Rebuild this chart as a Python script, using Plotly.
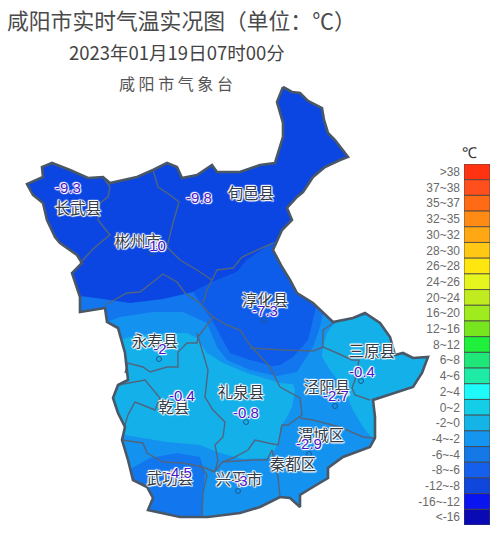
import plotly.graph_objects as go

CJK = "Noto Sans CJK SC"
HALO = "1px 0 1px #fff, -1px 0 1px #fff, 0 1px 1px #fff, 0 -1px 1px #fff, 1px 1px 1px #fff, -1px -1px 1px #fff"

# legend
legend_labels = [">38", "37~38", "35~37", "32~35", "30~32", "28~30", "26~28", "24~26",
                 "20~24", "16~20", "12~16", "8~12", "6~8", "4~6", "2~4", "0~2",
                 "-2~0", "-4~-2", "-6~-4", "-8~-6", "-12~-8", "-16~-12", "<-16"]
legend_colors = ["#FF3312", "#FF4F1C", "#FF6A14", "#FF8A14", "#FFA814", "#FFC814", "#FFE60F", "#E6F51E",
                 "#C0EB1E", "#A0EB1E", "#78E61E", "#1EF03C", "#1EE678", "#1EEBA5", "#1EFAFA", "#14CDE6",
                 "#14B4E6", "#1496F0", "#1478E6", "#145FEB", "#0F46DC", "#0A14F0", "#0A0AB4"]
legend_width = [1] * 23

# county outline, picture coordinates
outline_x = [283, 292, 300, 308, 322, 324, 328, 335, 348, 340, 325, 313, 303, 297, 287, 292, 282, 273, 282, 290,
             297, 313, 333, 353, 365, 380, 390, 395, 403, 413, 428, 422, 413, 397, 373, 375, 375, 370, 343, 328,
             328, 313, 300, 300, 290, 280, 260, 240, 208, 180, 148, 153, 147, 133, 128, 122, 125, 118, 113, 118,
             128, 125, 118, 107, 105, 80, 80, 72, 82, 77, 60, 55, 47, 43, 33, 27, 43, 42, 52, 70,
             88, 103, 110, 137, 153, 167, 177, 182, 197, 212, 217, 240, 260, 275, 283, 283, 277, 283]
outline_y = [87, 92, 93, 101, 108, 120, 133, 140, 157, 160, 167, 177, 192, 197, 208, 220, 230, 250, 267, 280,
             293, 303, 322, 318, 313, 323, 337, 355, 353, 358, 357, 373, 387, 392, 400, 417, 438, 447, 457, 468,
             478, 487, 495, 507, 498, 497, 507, 513, 517, 517, 510, 498, 487, 480, 460, 440, 427, 413, 398, 385,
             380, 353, 328, 322, 308, 312, 297, 273, 263, 255, 243, 237, 220, 203, 195, 184, 177, 167, 163, 170,
             178, 177, 183, 177, 170, 163, 167, 178, 175, 165, 172, 172, 165, 163, 137, 123, 102, 87]

# temperature bands, painted in order
north_x = outline_x
north_y = outline_y
south_x = [60, 80, 103, 130, 163, 193, 210, 237, 247, 272, 290, 440, 440, 60]
south_y = [290, 296, 299, 303, 299, 292, 283, 272, 260, 243, 235, 300, 537, 537]
blob_x = [193, 203, 212, 220, 230, 250, 273, 280, 293, 308, 315, 317, 310, 300, 272, 247, 237, 210]
blob_y = [292, 307, 320, 335, 353, 360, 366, 365, 357, 340, 312, 303, 280, 240, 243, 260, 272, 283]
mid_x = [60, 107, 120, 153, 183, 200, 207, 217, 227, 250, 277, 297, 313, 320, 323, 333, 345, 440, 440, 60]
mid_y = [322, 322, 317, 312, 312, 320, 323, 347, 360, 370, 376, 372, 347, 327, 313, 315, 300, 300, 537, 537]
central_x = [100, 120, 137, 170, 187, 197, 207, 223, 247, 280, 293, 295, 292, 287, 280, 280, 270, 243, 220, 200, 167, 125, 100]
central_y = [340, 340, 335, 333, 333, 338, 353, 363, 373, 383, 384, 390, 407, 417, 428, 440, 458, 459, 453, 445, 442, 435, 430]
sanyuan_x = [335, 327, 323, 322, 330, 343, 353, 363, 372, 400, 440, 440]
sanyuan_y = [322, 333, 345, 357, 370, 387, 410, 427, 438, 440, 440, 300]
wugong_x = [120, 132, 150, 177, 200, 205, 203, 202, 120]
wugong_y = [470, 468, 458, 453, 457, 473, 493, 525, 525]

# county borders
borders = [
    ([103, 110, 108, 100, 98, 110, 100, 92, 83, 80], [177, 187, 197, 203, 220, 235, 243, 250, 260, 263]),
    ([153, 158, 170, 179, 173, 167, 180, 197, 212], [170, 187, 195, 202, 223, 247, 260, 270, 280]),
    ([212, 217, 233, 242, 253, 273], [280, 270, 268, 257, 252, 243]),
    ([212, 207, 203], [280, 290, 303]),
    ([105, 127, 140, 163, 177, 185, 200, 213, 227, 240, 250, 270, 280], [305, 293, 292, 274, 282, 293, 303, 317, 325, 330, 345, 367, 387]),
    ([213, 198, 197, 187, 178, 178, 167, 150, 143, 128, 125], [317, 337, 343, 343, 352, 367, 367, 372, 367, 363, 373]),
    ([250, 283, 313, 323, 337, 352, 359, 355, 352, 355, 370], [348, 350, 351, 347, 353, 360, 360, 380, 388, 395, 400]),
    ([323, 323, 335], [347, 330, 322]),
    ([280, 300, 302, 288, 282, 278, 268, 255, 248, 233, 222, 215], [387, 398, 415, 425, 425, 445, 443, 440, 450, 458, 462, 472]),
    ([197, 208, 205, 213, 225, 223, 215, 218, 215], [333, 370, 397, 410, 422, 437, 445, 460, 472]),
    ([118, 145, 160, 155, 135, 128, 125], [385, 380, 398, 410, 402, 415, 425]),
    ([122, 143, 147, 163, 183, 203, 215], [440, 443, 453, 462, 463, 467, 472]),
    ([200, 207, 203, 202], [465, 475, 493, 515]),
    ([222, 253, 267, 272, 278, 280], [462, 460, 460, 450, 477, 497]),
    ([300, 313, 340, 363, 375], [418, 420, 427, 437, 438]),
]

# county names and station values
county_names = ["长武县", "旬邑县", "彬州市", "淳化县", "永寿县", "三原县", "礼泉县", "乾县", "泾阳县", "渭城区", "秦都区", "兴平市", "武功县"]
county_x = [78, 251, 138, 265, 155, 372, 241, 174, 327, 321, 293, 239, 170]
county_y = [210, 195, 243, 302, 343, 353, 394, 409, 389, 437, 466, 481, 480]
station_vals = ["-9.3", "-9.8", "-10", "-7.3", "-2", "-0.4", "-0.8", "-0.4", "-2.7", "-2.9", "-3", "-4.5"]
station_x = [68, 199, 155, 265, 160, 362, 246, 182, 336, 309, 241, 179]
station_y = [189, 199, 247, 312, 350, 373, 414, 397, 397, 445, 482, 474]
dot_x = [152, 264, 159, 361, 246, 335, 309, 238]
dot_y = [253, 320, 359, 381, 422, 406, 454, 491]

fig = go.Figure()


def add_band(x, y, color):
    fig.add_trace(go.Scatter(x=x, y=y, mode="lines", fill="toself", fillcolor=color,
                             line=dict(width=0), hoverinfo="skip", showlegend=False))


add_band(north_x, north_y, "#0C46E2")
add_band(south_x, south_y, "#1276EE")
add_band(blob_x, blob_y, "#0E5CEA")
add_band(mid_x, mid_y, "#1492F0")
add_band(central_x, central_y, "#14B0EA")
add_band(sanyuan_x, sanyuan_y, "#14B0EA")
add_band(wugong_x, wugong_y, "#1276EE")

# white page with the county cut out, so the bands stop at the outline
add_band([0, 0, 500, 500, 0] + outline_x + [0], [0, 537, 537, 0, 0] + outline_y + [0], "#ffffff")

for bx, by in borders:
    fig.add_trace(go.Scatter(x=bx, y=by, mode="lines", line=dict(color="#50657F", width=1.4),
                             hoverinfo="skip", showlegend=False))

fig.add_trace(go.Scatter(x=outline_x, y=outline_y, mode="lines", line=dict(color="#4A5766", width=2.6),
                         hoverinfo="skip", showlegend=False))

fig.add_trace(go.Scatter(x=dot_x, y=dot_y, mode="markers",
                         marker=dict(size=5, color="rgba(0,0,0,0)", line=dict(color="#1B5C8C", width=1)),
                         hoverinfo="skip", showlegend=False))
fig.add_trace(go.Scatter(x=county_x, y=county_y, mode="text", text=county_names,
                         textfont=dict(family=CJK, size=15.5, color="#333C48", shadow=HALO),
                         hoverinfo="skip", showlegend=False))
fig.add_trace(go.Scatter(x=station_x, y=station_y, mode="text", text=station_vals,
                         textfont=dict(family="Liberation Sans", size=15, color="#4A14C8", shadow=HALO),
                         hoverinfo="skip", showlegend=False))

# colour key
fig.add_trace(go.Bar(x=legend_width, y=legend_labels, orientation="h", width=1, xaxis="x2", yaxis="y2",
                     marker=dict(color=legend_colors, line=dict(color="#444444", width=0.8)),
                     hoverinfo="skip", showlegend=False))

fig.update_layout(
    width=500, height=537, margin=dict(l=0, r=0, t=0, b=0),
    paper_bgcolor="white", plot_bgcolor="white",
    xaxis=dict(range=[0, 500], domain=[0, 1], visible=False),
    yaxis=dict(range=[537, 0], domain=[0, 1], visible=False),
    xaxis2=dict(range=[0, 1], domain=[0.928, 0.98], anchor="y2", visible=False),
    yaxis2=dict(type="category", autorange="reversed", domain=[0.0223, 0.6946], anchor="x2",
                showgrid=False, zeroline=False, showline=False, ticks="", ticklabelstandoff=3,
                tickfont=dict(family="Liberation Sans", size=12, color="#6A6A6A")),
    annotations=[
        dict(text="咸阳市实时气温实况图（单位：℃）", x=5, y=19, xref="x", yref="y", xanchor="left", showarrow=False,
             font=dict(family=CJK, size=21.8, color="#4A4A4A")),
        dict(text="2023年01月19日07时00分", x=177, y=52, xref="x", yref="y", showarrow=False,
             font=dict(family=CJK, size=18.5, color="#444444")),
        dict(text="咸 阳 市 气 象 台", x=176, y=83, xref="x", yref="y", showarrow=False,
             font=dict(family=CJK, size=16, color="#555555")),
        dict(text="℃", x=469, y=152, xref="x", yref="y", showarrow=False,
             font=dict(family="Liberation Sans", size=15, color="#333333")),
    ],
)

# the page must start at the window corner
fig.write_html("out.html", config={"displayModeBar": False}, post_script="document.body.style.margin='0';")
